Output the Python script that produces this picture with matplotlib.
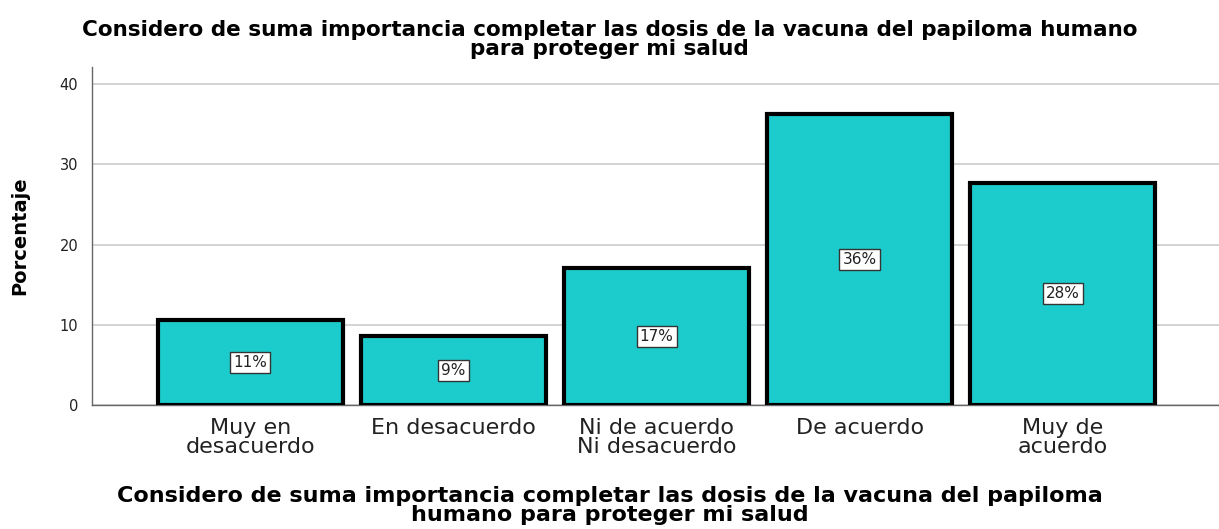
import matplotlib
matplotlib.use("Agg")
import matplotlib.pyplot as plt

categories = ["Muy en\ndesacuerdo", "En desacuerdo", "Ni de acuerdo\nNi desacuerdo",
              "De acuerdo", "Muy de\nacuerdo"]
percent = [10.6, 8.6, 17.1, 36.3, 27.7]
labels = ["11%", "9%", "17%", "36%", "28%"]
yticks = [0, 10, 20, 30, 40]

title = ("Considero de suma importancia completar las dosis de la vacuna del papiloma humano\n"
         "para proteger mi salud")
xlabel = ("Considero de suma importancia completar las dosis de la vacuna del papiloma\n"
          "humano para proteger mi salud")

plt.rcParams["font.family"] = ["DejaVu Sans"]

fig = plt.figure(figsize=(12.19, 5.29), dpi=100)
ax = fig.add_axes([0.0755, 0.2344, 0.9245, 0.6386])

x = range(len(categories))
ax.bar(x, percent, width=0.91, color="#1ccccc", edgecolor="black", linewidth=3, zorder=3)
for xi, v, lab in zip(x, percent, labels):
    ax.text(xi, v / 2, lab, ha="center", va="center", fontsize=11, zorder=4,
            color="#222222",
            bbox=dict(boxstyle="square,pad=0.2", fc="white", ec="#333333", lw=1))

ax.set_xlim(-0.78, 4.77)
ax.set_ylim(0, 42.1)
ax.set_yticks(yticks)
ax.yaxis.grid(True, color="#cccccc", lw=1.2, zorder=0)
ax.set_axisbelow(True)
ax.set_xticks(list(x))
ax.set_xticklabels(categories, fontsize=16, color="#222222", linespacing=0.95)
ax.tick_params(axis="x", length=0, pad=9)
ax.tick_params(axis="y", length=0, labelsize=10.5, pad=10, colors="#222222")
for s in ["top", "right"]:
    ax.spines[s].set_visible(False)
for s in ["left", "bottom"]:
    ax.spines[s].set_color("#666666")
    ax.spines[s].set_linewidth(1)

ax.set_ylabel("Porcentaje", fontsize=14, fontweight="bold", labelpad=22)
fig.text(0.5, 0.925, title, ha="center", va="center", fontsize=15.5, fontweight="bold",
         linespacing=0.92)
fig.text(0.5, 0.045, xlabel, ha="center", va="center", fontsize=16, fontweight="bold",
         linespacing=0.92)

fig.savefig("out.png", dpi=100)
